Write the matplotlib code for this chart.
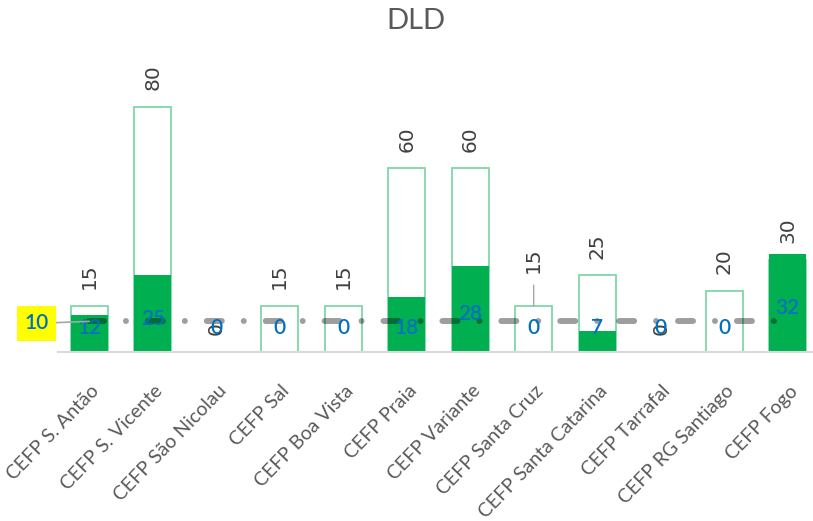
import matplotlib
matplotlib.use("Agg")
import matplotlib.pyplot as plt
from matplotlib.transforms import ScaledTranslation

plt.rcParams['font.family'] = ['Lato', 'DejaVu Sans']
plt.rcParams['lines.scale_dashes'] = False

categories = ["CEFP S. Antão", "CEFP S. Vicente", "CEFP São Nicolau", "CEFP Sal",
              "CEFP Boa Vista", "CEFP Praia", "CEFP Variante", "CEFP Santa Cruz",
              "CEFP Santa Catarina", "CEFP Tarrafal", "CEFP RG Santiago", "CEFP Fogo"]
capacity = [15, 80, 0, 15, 15, 60, 60, 15, 25, 0, 20, 30]
enrolled = [12, 25, 0, 0, 0, 18, 28, 0, 7, 0, 0, 32]
target = [10, 10, 10, 10, 10, 10, 10, 10, 10, 10, 10, 10]

W, H = 813, 521
fig = plt.figure(figsize=(W / 100, H / 100), dpi=100)
ax = fig.add_axes([57.6 / W, 169 / H, 755.4 / W, 275.6 / H])

x = list(range(len(categories)))
bw = 0.58
outline_c = '#80D8A8'
fill_c = '#00B050'
blue = '#0070C0'
gray_txt = '#404040'

ax.bar(x, capacity, width=bw, facecolor='white', edgecolor=outline_c, linewidth=1.3, zorder=1)
ax.bar(x, enrolled, width=bw, facecolor=fill_c, edgecolor='none', linewidth=0, zorder=2)

ax.plot(x, target, color='black', alpha=0.38, linewidth=4.3,
        dashes=(10.8, 15.8, 0.01, 15.8), dash_capstyle='round', zorder=3)

# capacity labels (rotated)
for i, c in enumerate(capacity):
    kw = dict(rotation=90, ha='center', va='bottom', fontsize=14.5, color=gray_txt,
              family='DejaVu Sans', zorder=5, annotation_clip=False,
              textcoords='offset points')
    if categories[i] == "CEFP Santa Cruz":
        ax.annotate(str(c), xy=(i, c), xytext=(0, 24),
                    arrowprops=dict(arrowstyle='-', color='#A6A6A6', lw=1.0,
                                    shrinkA=7, shrinkB=0), **kw)
    else:
        ax.annotate(str(c), xy=(i, c), xytext=(0, 12), **kw)

# enrolled labels
for i, v in enumerate(enrolled):
    ypos = max(v / 2 - 1, 8.5)
    ax.text(i, ypos, str(v), ha='center', va='center_baseline', fontsize=15,
            color=blue, fontweight='semibold', zorder=6)

# target label with yellow box
ax.annotate(str(target[0]), xy=(0, target[0]), xytext=(-38, 0), textcoords='offset points',
            ha='center', va='center_baseline', fontsize=15, color=blue, fontweight='semibold',
            bbox=dict(boxstyle='square,pad=0.35', facecolor='#FFFF00', edgecolor='none'),
            arrowprops=dict(arrowstyle='-', color='#A6A6A6', lw=1.2, shrinkA=0, shrinkB=0),
            annotation_clip=False, zorder=6)

ax.set_xlim(-0.5, 11.4)
ax.set_ylim(0, 90)
ax.set_yticks([])
ax.set_xticks(x)
ax.set_xticklabels(categories, rotation=46, ha='right', va='center',
                   rotation_mode='anchor', fontsize=14, color='#595959')
ax.tick_params(axis='x', length=0, pad=26)
for lab in ax.get_xticklabels():
    lab.set_transform(lab.get_transform() + ScaledTranslation(7 / 100, 0, fig.dpi_scale_trans))

for s in ['top', 'left', 'right']:
    ax.spines[s].set_visible(False)
ax.spines['bottom'].set_color('#D9D9D9')
ax.spines['bottom'].set_linewidth(1.5)
ax.set_facecolor('none')

fig.text(416 / W, 1 - 21 / H, 'DLD', ha='center', va='center', fontsize=21, color='#595959')

fig.savefig('out.png', dpi=100)
